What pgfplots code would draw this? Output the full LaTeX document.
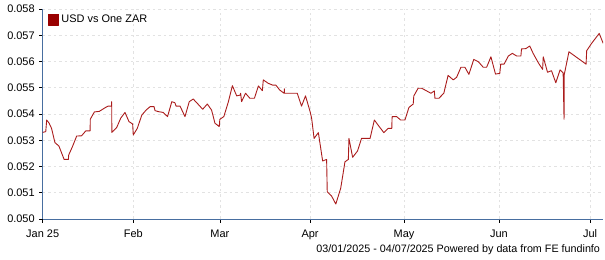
\documentclass[border=0pt]{standalone}
\usepackage{pgfplots}
\pgfplotsset{compat=1.18}
\usepackage{pgfplotstable}
\usepackage{fontspec}
\setmainfont{Liberation Sans}
\definecolor{linered}{RGB}{170,28,28}
\definecolor{legred}{RGB}{153,0,0}
\definecolor{axblue}{RGB}{72,110,160}
\definecolor{gridgray}{RGB}{226,226,226}
\pgfplotstableread{
d v
0 0.05330
1.0 0.05333
1.3 0.05377
2.1 0.05365
2.9 0.05345
4.0 0.05291
5.3 0.05278
7.0 0.05227
8.4 0.05227
8.5 0.05244
9.7 0.05275
11.1 0.05316
12.7 0.05317
14.1 0.05336
15.5 0.05336
15.55 0.05380
16.9 0.05408
18.5 0.05410
20.4 0.05424
21.4 0.05430
22.5 0.05430
22.55 0.05447
22.6 0.05330
24.2 0.05349
25.5 0.05384
26.9 0.05406
28.2 0.05371
29.4 0.05362
29.6 0.05320
30.9 0.05345
32.4 0.05396
33.8 0.05415
35.1 0.05428
36.4 0.05428
36.7 0.05413
37.8 0.05409
39.4 0.05406
40.8 0.05390
42.2 0.05447
43.2 0.05443
43.6 0.05430
44.9 0.05430
46.5 0.05390
47.9 0.05447
49.2 0.05457
50.5 0.05441
52.3 0.05418
53.8 0.05438
55.2 0.05415
56.3 0.05365
57.7 0.05352
57.9 0.05380
59.2 0.05390
60.7 0.05447
62.0 0.05508
63.4 0.05469
64.5 0.05472
64.7 0.05479
65.0 0.05447
66.3 0.05479
67.7 0.05460
69.2 0.05460
70.5 0.05507
71.8 0.05489
72.1 0.05530
73.7 0.05517
75.2 0.05510
76.2 0.05510
77.5 0.05491
78.9 0.05479
79.0 0.05496
79.05 0.05479
83.2 0.05479
84.6 0.05430
85.9 0.05469
87.4 0.05409
87.9 0.05384
88.7 0.05307
90.1 0.05329
91.5 0.05221
92.8 0.05227
93.0 0.05104
94.4 0.05088
95.8 0.05057
97.4 0.05117
98.8 0.05218
99.9 0.05227
100.1 0.05307
101.3 0.05235
102.9 0.05259
104.2 0.05307
107.0 0.05307
108.4 0.05377
110.0 0.05352
111.5 0.05329
112.9 0.05345
114.1 0.05345
114.2 0.05390
115.7 0.05390
117.0 0.05377
118.4 0.05377
119.7 0.05425
121.1 0.05438
121.3 0.05469
122.7 0.05498
123.9 0.05498
126.9 0.05479
128.0 0.05488
128.2 0.05460
129.5 0.05460
131.1 0.05479
132.5 0.05547
134.2 0.05530
135.3 0.05540
136.7 0.05578
138.0 0.05578
139.3 0.05551
140.9 0.05608
142.4 0.05599
144.0 0.05578
145.1 0.05578
146.5 0.05618
148.0 0.05552
149.4 0.05555
149.7 0.05590
150.8 0.05590
152.2 0.05621
153.5 0.05631
154.9 0.05621
156.3 0.05621
156.5 0.05648
157.9 0.05649
159.2 0.05659
160.3 0.05631
162.0 0.05595
163.4 0.05570
163.6 0.05618
165.0 0.05559
166.3 0.05565
167.7 0.05519
169.1 0.05568
170.1 0.05557
170.4 0.05380
170.45 0.05549
172.0 0.05637
177.6 0.05590
177.8 0.05641
179.4 0.05669
181.9 0.05707
183.2 0.05669
}\usdzar
\begin{document}
\begin{tikzpicture}
\useasboundingbox (-42.7bp,-41bp) rectangle (562.3bp,219bp);
\begin{axis}[
  scale only axis,
  width=560.5bp, height=210bp,
  xmin=0, xmax=183.2,
  ymin=0.050, ymax=0.058,
  ytick={0.050,0.051,...,0.058},
  xtick={0,29.6,57.9,87.4,118.1,149.1,178.9},
  xticklabels={Jan 25,Feb,Mar,Apr,May,Jun,Jul},
  /pgf/number format/assume math mode=true,
  yticklabel={\pgfmathprintnumber[fixed,fixed zerofill,precision=3]{\tick}},
  scaled y ticks=false,
  axis x line*=bottom, axis y line*=left,
  axis line style={axblue, line width=0.9bp},
  x axis line style={-}, y axis line style={-},
  tick align=outside,
  major tick length=3.5bp,
  tick style={black, line width=0.6bp},
  grid=major,
  major grid style={gridgray, dash pattern=on 2.5bp off 3bp, line width=0.6bp},
  tick label style={font=\fontsize{11}{13}\selectfont, black},
  yticklabel style={xshift=-1bp},
  xticklabel style={yshift=-4bp},
  legend style={at={(axis description cs:0,1)}, anchor=north west,
    xshift=4bp, yshift=-3bp, draw=none, fill=none,
    font=\fontsize{11}{13}\selectfont, inner sep=1pt},
  legend cell align=left,
  legend image code/.code={\fill[legred] (0bp,-5.3bp) rectangle (10.6bp,5.3bp);},
]
\addplot[linered, line width=0.9bp, line join=round] table[x=d,y=v] {\usdzar};
\addlegendentry{USD vs One ZAR}
\end{axis}
\node[anchor=east, font=\fontsize{10.8}{13}\selectfont, inner sep=0pt] at (557.5bp,-31bp) {03/01/2025 - 04/07/2025 Powered by data from FE fundinfo};
\end{tikzpicture}
\end{document}
